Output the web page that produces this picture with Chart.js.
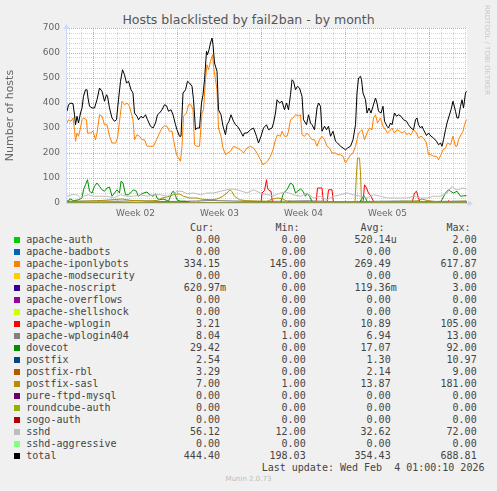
<!DOCTYPE html>
<html>
<head>
<meta charset="utf-8">
<script src="https://cdn.jsdelivr.net/npm/chart.js@4.4.1/dist/chart.umd.min.js"></script>
<style>
  body { margin:0; background:#f0f0f0; width:497px; height:491px; position:relative; overflow:hidden; font-family:"DejaVu Sans", sans-serif; }
  #title { position:absolute; left:0; width:497px; top:12px; text-align:center; font-size:12.5px; line-height:15px; color:#555; }
  #c { position:absolute; left:0; top:0; }
  #rrd { position:absolute; left:491px; top:5px; transform-origin:0 0; transform:rotate(90deg); font-size:7px; line-height:8px; color:#c8c8c8; white-space:nowrap; }
  .lg { position:absolute; font-family:"DejaVu Sans Mono", monospace; font-size:10px; line-height:12px; color:#444; white-space:pre; }
  .sq { position:absolute; width:6px; height:6px; }
  #munin { position:absolute; left:0; width:497px; top:475px; text-align:center; font-size:7px; line-height:9px; color:#bdbdbd; }
</style>
</head>
<body>
<div id="title">Hosts blacklisted by fail2ban - by month</div>
<canvas id="c" width="497" height="220"></canvas>
<div id="rrd">RRDTOOL / TOBI OETIKER</div>
<div id="legend"></div>
<div id="munin">Munin 2.0.73</div>
<script>
// time axis is in hours from the left edge of the graph
const weekLabels = ['Week 02', 'Week 03', 'Week 04', 'Week 05'];
const weekLabelHours = [137, 305, 473, 641];
const weekStartHours = [53, 221, 389, 557, 725];

// [hour, hosts]
const total = [[0,367],[3,393],[8,400],[12,397],[15,353],[17,313],[20,347],[23,320],[27,360],[30,380],[33,427],[37,453],[40,453],[42,420],[45,387],[50,380],[55,380],[60,413],[65,460],[70,447],[75,407],[79,433],[81,427],[85,380],[90,340],[95,327],[99,333],[103,413],[107,487],[111,533],[115,513],[119,480],[123,487],[128,453],[132,440],[135,360],[140,347],[143,333],[148,347],[152,340],[157,353],[161,333],[167,307],[172,300],[177,320],[181,353],[185,360],[190,373],[195,393],[199,389],[203,367],[208,373],[212,353],[217,313],[220,293],[225,267],[228,267],[232,440],[237,453],[241,487],[245,480],[250,467],[253,413],[257,293],[260,300],[265,300],[269,400],[272,433],[275,493],[279,607],[281,593],[284,613],[287,640],[290,660],[292,633],[295,560],[300,527],[303,373],[308,353],[312,307],[317,273],[320,313],[324,327],[328,353],[333,327],[337,313],[341,307],[347,287],[352,267],[355,280],[360,280],[367,293],[373,300],[379,267],[383,240],[388,267],[393,300],[399,313],[403,293],[410,300],[413,320],[417,360],[420,413],[425,400],[430,407],[435,373],[439,400],[443,373],[447,433],[450,493],[453,487],[457,453],[461,467],[465,460],[470,427],[473,333],[479,313],[483,353],[487,320],[490,313],[495,293],[500,380],[503,400],[507,387],[510,287],[515,307],[519,293],[523,307],[527,267],[532,287],[537,247],[541,240],[547,227],[552,220],[557,213],[561,220],[567,227],[572,253],[577,313],[580,440],[583,500],[587,507],[589,493],[592,440],[597,413],[600,360],[604,380],[608,360],[612,387],[617,420],[620,400],[623,367],[628,360],[632,387],[635,327],[640,307],[643,300],[647,320],[650,313],[655,360],[659,347],[663,353],[668,347],[673,333],[679,327],[683,313],[688,300],[693,293],[697,333],[700,340],[703,313],[707,300],[710,307],[713,293],[719,270],[723,280],[728,267],[733,260],[739,247],[743,233],[747,240],[750,227],[753,253],[757,293],[760,320],[763,340],[768,373],[772,407],[777,367],[780,340],[783,340],[787,387],[790,413],[793,380],[797,440],[799,447]];

const iponlybots = [[0,320],[3,333],[8,327],[12,340],[15,293],[17,247],[20,280],[23,267],[27,300],[30,333],[33,340],[39,333],[41,280],[47,280],[52,287],[57,253],[60,280],[65,353],[70,347],[75,313],[80,313],[85,267],[90,240],[97,240],[101,260],[105,327],[110,407],[115,393],[120,400],[125,387],[132,333],[135,253],[140,273],[145,267],[150,253],[155,253],[160,227],[165,227],[170,227],[173,227],[179,253],[185,280],[190,300],[195,309],[200,307],[205,287],[210,287],[213,253],[219,193],[221,187],[227,167],[230,227],[233,347],[239,360],[243,393],[248,393],[252,373],[255,233],[259,227],[265,227],[270,360],[273,373],[277,493],[280,553],[283,533],[287,567],[291,593],[293,547],[297,493],[300,453],[303,300],[308,267],[312,220],[317,193],[321,200],[327,207],[333,227],[340,220],[347,213],[353,200],[360,220],[367,227],[373,220],[380,200],[387,173],[392,153],[397,160],[401,167],[407,187],[412,213],[417,253],[421,273],[427,267],[430,287],[435,267],[440,267],[443,287],[447,333],[452,340],[457,353],[463,349],[467,353],[470,273],[475,267],[480,280],[485,267],[490,253],[495,253],[500,227],[505,253],[510,267],[515,253],[520,227],[525,220],[530,200],[537,200],[541,193],[547,193],[552,187],[557,160],[561,173],[567,193],[572,200],[577,227],[580,253],[583,280],[587,287],[590,293],[595,253],[600,280],[605,300],[610,293],[613,340],[617,353],[621,320],[627,340],[632,307],[637,293],[641,280],[645,287],[650,300],[655,280],[660,293],[665,287],[670,280],[675,287],[680,273],[683,280],[688,273],[693,293],[699,280],[703,260],[708,267],[713,260],[719,240],[723,193],[728,193],[733,187],[739,187],[743,173],[748,193],[752,213],[757,220],[761,240],[767,233],[772,267],[777,227],[780,227],[783,253],[788,273],[792,287],[795,313],[799,334]];

const dovecot = [[0,7],[7,16],[13,9],[23,13],[30,20],[33,53],[37,73],[41,93],[45,47],[50,40],[55,67],[60,80],[65,67],[70,53],[75,47],[80,60],[85,64],[90,27],[95,40],[100,53],[105,40],[108,87],[112,80],[117,33],[123,33],[130,47],[133,53],[139,47],[142,27],[147,33],[153,40],[160,44],[165,33],[172,27],[177,37],[180,20],[185,13],[192,16],[197,13],[203,7],[210,43],[213,47],[217,29],[220,13],[227,7],[237,7],[245,3],[255,0],[427,0],[433,40],[440,53],[447,80],[452,73],[457,40],[461,47],[467,56],[472,47],[477,27],[480,40],[485,27],[490,7],[494,0],[585,0],[590,20],[595,27],[600,7],[605,0],[745,0],[750,13],[757,40],[763,53],[767,47],[773,40],[780,47],[787,27],[793,29],[799,29]];

const sshd = [[0,27],[10,33],[20,33],[27,20],[33,27],[43,33],[53,27],[67,27],[80,27],[93,20],[107,33],[120,27],[133,27],[147,33],[160,27],[173,33],[187,33],[200,27],[213,36],[220,47],[230,47],[240,37],[253,40],[267,33],[280,40],[293,40],[307,47],[320,53],[330,56],[340,53],[350,47],[360,40],[373,53],[387,40],[400,33],[413,29],[427,40],[440,43],[453,33],[467,27],[480,40],[493,20],[507,27],[520,13],[533,27],[547,33],[560,40],[573,33],[587,27],[600,20],[613,33],[627,27],[640,20],[653,20],[667,20],[680,20],[693,27],[707,20],[720,20],[733,27],[747,27],[760,40],[770,67],[777,53],[783,53],[790,60],[799,56]];

const postfixSasl = [[0,7],[30,7],[60,9],[90,13],[110,16],[130,10],[160,8],[180,10],[190,20],[205,27],[215,35],[225,36],[233,27],[245,20],[260,20],[270,15],[290,13],[300,16],[310,25],[320,40],[326,53],[330,45],[335,27],[345,13],[360,9],[400,7],[410,15],[420,20],[430,18],[440,7],[500,5],[560,5],[576,5],[579,120],[581,180],[585,180],[587,120],[589,5],[620,4],[700,8],[710,16],[720,10],[740,5],[799,7]];

const wplogin = [[0,0],[100,0],[102,4],[106,0],[260,0],[262,5],[266,0],[388,0],[390,40],[395,50],[399,93],[401,60],[404,50],[408,47],[411,0],[498,0],[501,60],[510,60],[513,0],[520,0],[523,53],[530,53],[533,0],[592,0],[595,73],[599,60],[603,40],[608,27],[613,7],[617,0],[690,0],[695,40],[699,47],[703,20],[707,0],[760,0],[763,10],[767,0],[799,3]];

const wplogin404 = [[0,6],[48,8],[96,7],[144,9],[192,6],[240,7],[288,10],[336,8],[384,6],[432,7],[480,9],[528,6],[576,5],[624,7],[672,8],[720,6],[768,7],[799,8]];
const postfix = [[0,1],[60,1],[62,4],[66,1],[200,0],[300,2],[440,1],[444,8],[450,2],[520,0],[640,1],[700,2],[740,1],[745,6],[750,1],[799,3]];
const postfixRbl = [[0,3],[48,2],[96,3],[144,2],[192,4],[240,3],[288,2],[336,3],[384,4],[432,2],[480,3],[528,2],[576,3],[624,2],[672,3],[720,2],[768,3],[799,3]];
const noscript = [[0,0],[200,0],[202,1],[206,0],[600,0],[602,2],[606,0],[799,1]];
const auth = [[0,0],[500,0],[501,1],[503,0],[799,0]];
const flat = [[0,0],[799,0]];

const legendNames = ['apache-auth','apache-badbots','apache-iponlybots','apache-modsecurity','apache-noscript','apache-overflows','apache-shellshock','apache-wplogin','apache-wplogin404','dovecot','postfix','postfix-rbl','postfix-sasl','pure-ftpd-mysql','roundcube-auth','sogo-auth','sshd','sshd-aggressive','total'];
const legendColors = ['#00CC00','#0066B3','#FF8000','#FFCC00','#330099','#990099','#CCFF00','#FF0000','#808080','#008F00','#00487D','#B35A00','#B38F00','#6B006B','#8FB300','#B30000','#BEBEBE','#80FF80','#000000'];
const seriesData = [auth, flat, iponlybots, flat, noscript, flat, flat, wplogin, wplogin404, dovecot, postfix, postfixRbl, postfixSasl, flat, flat, flat, sshd, flat, total];
const curVals = ['0.00','0.00','334.15','0.00','620.97m','0.00','0.00','3.21','8.04','29.42','2.54','3.29','7.00','0.00','0.00','0.00','56.12','0.00','444.40'];
const minVals = ['0.00','0.00','145.00','0.00','0.00','0.00','0.00','0.00','1.00','0.00','0.00','0.00','1.00','0.00','0.00','0.00','12.00','0.00','198.03'];
const avgVals = ['520.14u','0.00','269.49','0.00','119.36m','0.00','0.00','10.89','6.94','17.07','1.30','2.14','13.87','0.00','0.00','0.00','32.62','0.00','354.43'];
const maxVals = ['2.00','0.00','617.87','0.00','3.00','0.00','0.00','105.00','13.00','92.00','10.97','9.00','181.00','0.00','0.00','0.00','72.00','0.00','688.81'];
const headers = ['Cur:', 'Min:', 'Avg:', 'Max:'];

// rrdtool draws the legend order bottom-up; Chart.js puts dataset 0 on top
const datasets = legendNames.map((name, i) => ({
  label: name,
  data: seriesData[i].map(p => ({x: p[0], y: p[1]})),
  borderColor: legendColors[i],
  borderWidth: 1,
  pointRadius: 0,
  fill: false,
  tension: 0
})).reverse();

const dayLines = [];
for (let h = weekStartHours[0] - 48; h < 800; h += 24) dayLines.push(h);

const MAJOR = 'rgba(235,120,120,0.75)';
const MINOR = 'rgba(170,170,170,0.5)';
const AXIS = '#CFD6F8';

const canvasBg = {
  id: 'canvasBg',
  beforeDraw(chart) {
    const {ctx, chartArea: a} = chart;
    ctx.save();
    ctx.fillStyle = '#ffffff';
    ctx.fillRect(a.left, a.top, a.right - a.left, a.bottom - a.top);
    ctx.restore();
  }
};

const arrows = {
  id: 'arrows',
  afterDatasetsDraw(chart) {
    const {ctx, chartArea: a} = chart;
    const x0 = Math.round(a.left) - 0.5, y0 = Math.round(a.bottom) + 0.5;
    ctx.save();
    ctx.strokeStyle = AXIS;
    ctx.fillStyle = AXIS;
    ctx.lineWidth = 1;
    ctx.beginPath();
    ctx.moveTo(x0, y0); ctx.lineTo(x0, a.top - 2);
    ctx.moveTo(x0, y0); ctx.lineTo(a.right + 2, y0);
    ctx.stroke();
    ctx.beginPath();
    ctx.moveTo(x0, a.top - 4); ctx.lineTo(x0 - 3, a.top + 1); ctx.lineTo(x0 + 3, a.top + 1); ctx.closePath();
    ctx.fill();
    ctx.beginPath();
    ctx.moveTo(a.right + 6, y0); ctx.lineTo(a.right + 1, y0 - 3); ctx.lineTo(a.right + 1, y0 + 3); ctx.closePath();
    ctx.fill();
    ctx.restore();
  }
};

new Chart(document.getElementById('c'), {
  type: 'line',
  data: { datasets },
  plugins: [canvasBg, arrows],
  options: {
    responsive: false,
    animation: false,
    layout: { padding: { left: 0, top: 28, right: 30, bottom: 0 } },
    plugins: { legend: { display: false }, tooltip: { enabled: false } },
    scales: {
      x: {
        type: 'linear', min: 0, max: 800,
        afterFit: s => { s.height = 17; },
        afterBuildTicks: s => {
          s.ticks = dayLines.concat(weekLabelHours).sort((a, b) => a - b).map(v => ({value: v}));
        },
        ticks: {
          autoSkip: false, maxRotation: 0, padding: 5, color: '#666',
          font: { family: 'DejaVu Sans', size: 9 },
          callback: v => { const k = weekLabelHours.indexOf(v); return k >= 0 ? weekLabels[k] : ''; }
        },
        grid: {
          drawTicks: false, lineWidth: 1,
          color: c => {
            const v = c.tick ? c.tick.value : null;
            if (weekLabelHours.includes(v)) return 'rgba(0,0,0,0)';
            return weekStartHours.includes(v) ? MAJOR : MINOR;
          }
        },
        border: { display: false, dash: [1, 1] }
      },
      y: {
        min: 0, max: 700,
        afterFit: s => { s.width = 67; },
        afterBuildTicks: s => {
          const t = [];
          for (let v = 0; v <= 700; v += 20) t.push({value: v});
          s.ticks = t;
        },
        ticks: {
          autoSkip: false, padding: 7, color: '#666',
          font: { family: 'DejaVu Sans', size: 9 },
          callback: v => (v % 100 === 0 ? String(v) : '')
        },
        grid: {
          drawTicks: false, lineWidth: 1,
          color: c => (c.tick && c.tick.value % 100 === 0 ? MAJOR : MINOR)
        },
        border: { display: false, dash: [1, 1] },
        title: { display: true, text: 'Number of hosts', color: '#666', font: { family: 'DejaVu Sans', size: 11 } }
      }
    }
  }
});

// legend table
const legend = document.getElementById('legend');
const colEdges = [220, 305.7, 390.7, 476.7];
function put(text, x, y, right) {
  const d = document.createElement('div');
  d.className = 'lg';
  d.textContent = text;
  if (right) { d.style.left = (x - 300) + 'px'; d.style.width = '300px'; d.style.textAlign = 'right'; }
  else d.style.left = x + 'px';
  d.style.top = y + 'px';
  legend.appendChild(d);
}
headers.forEach((h, j) => put(h + '\u00a0\u00a0', colEdges[j] + 6, 221.5, true));
legendNames.forEach((name, i) => {
  const y = 234 + 12 * i;
  const sq = document.createElement('div');
  sq.className = 'sq';
  sq.style.left = '14px';
  sq.style.top = (237 + 12 * i) + 'px';
  sq.style.background = legendColors[i];
  legend.appendChild(sq);
  put(name, 26.3, y, false);
  [curVals[i], minVals[i], avgVals[i], maxVals[i]].forEach((v, j) => {
    const s = /[a-zA-Z]$/.test(v) ? v : v + '\u00a0';
    put(s, colEdges[j] + 6, y, true);
  });
});
put('Last update: Wed Feb  4 01:00:10 2026', 261.7, 461.7, false);
</script>
</body>
</html>
